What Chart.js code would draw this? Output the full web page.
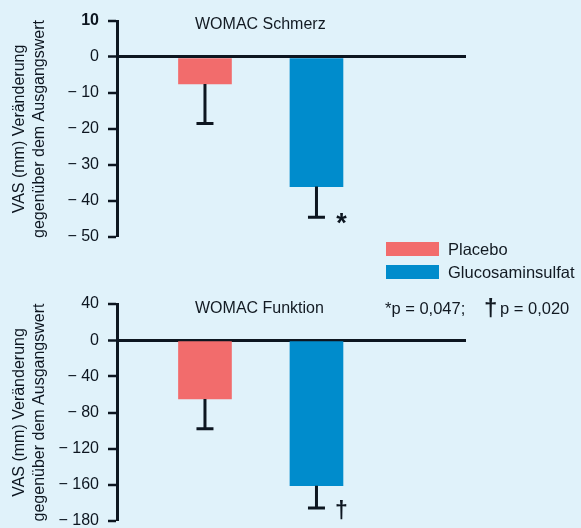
<!DOCTYPE html>
<html><head><meta charset="utf-8">
<script src="https://cdn.jsdelivr.net/npm/chart.js@4/dist/chart.umd.min.js"></script>
<style>
html,body{margin:0;padding:0;background:#e0f2fa;width:581px;height:528px;overflow:hidden;font-family:"Liberation Sans",Arial,sans-serif;color:#121a22}
.abs{position:absolute;white-space:nowrap;line-height:20px}
</style></head><body>
<div class="abs" style="left:0;top:0;width:581px;height:260px"><canvas id="c1" width="581" height="260"></canvas></div>
<div class="abs" style="left:0;top:260px;width:581px;height:290px"><canvas id="c2" width="581" height="290"></canvas></div>
<div class="abs" style="left:195px;top:14px;font-size:16px">WOMAC Schmerz</div>
<div class="abs" style="left:195px;top:298px;font-size:16px">WOMAC Funktion</div>
<div class="abs" id="sw0" style="left:386px;top:242px;width:53px;height:14px"></div>
<div class="abs" id="lg0" style="left:448px;top:239px;font-size:16.5px"></div>
<div class="abs" id="sw1" style="left:386px;top:265px;width:53px;height:14px"></div>
<div class="abs" id="lg1" style="left:448px;top:262px;font-size:16.5px"></div>
<div class="abs" style="left:385px;top:298px;font-size:16.5px">*p = 0,047;</div>
<div class="abs" style="left:484px;top:296px;font-size:24px;font-weight:bold;line-height:24px">†</div>
<div class="abs" style="left:500px;top:298px;font-size:16.5px">p = 0,020</div>
<script>
// ---- data ----
const categories = ['Placebo', 'Glucosaminsulfat'];
const seriesColors = ['#f26c6c', '#008ccc'];
const painMean = [-7.5, -36];
const painErrLow = [-18.5, -44.5];
const painMarks = ['', '*'];
const painTickValues = [10, 0, -10, -20, -30, -40, -50];
const painTickLabels = ['10', '0', '\u2212 10', '\u2212 20', '\u2212 30', '\u2212 40', '\u2212 50'];
const funcMean = [-65, -161];
const funcErrLow = [-98, -185.5];
const funcMarks = ['', '\u2020'];
const funcTickValues = [40, 0, -40, -80, -120, -160, -200];
const funcTickLabels = ['40', '0', '\u2212 40', '\u2212 80', '\u2212 120', '\u2212 160', '\u2212 180'];
const yTitle = ['VAS (mm) Ver\u00e4nderung', 'gegen\u00fcber dem Ausgangswert'];

const DARK = '#0d1620';
const FAM = '"Liberation Sans", Arial, sans-serif';

categories.forEach((c, i) => {
  document.getElementById('sw' + i).style.background = seriesColors[i];
  document.getElementById('lg' + i).textContent = c;
});

const errorPlugin = {
  id: 'errbars',
  afterDatasetsDraw(chart, args, opts) {
    const ctx = chart.ctx;
    const ys = chart.scales.y;
    ctx.save();
    chart.data.datasets.forEach((ds, di) => {
      const el = chart.getDatasetMeta(di).data[0];
      const yEnd = ys.getPixelForValue(ds.errLow);
      ctx.strokeStyle = DARK;
      ctx.lineWidth = 3;
      ctx.beginPath();
      ctx.moveTo(el.x, el.y);
      ctx.lineTo(el.x, yEnd);
      ctx.moveTo(el.x - 8.5, yEnd);
      ctx.lineTo(el.x + 8.5, yEnd);
      ctx.stroke();
      if (ds.mark) {
        ctx.fillStyle = DARK;
        ctx.textAlign = 'center';
        ctx.textBaseline = 'middle';
        ctx.font = 'bold ' + opts.markSize + 'px ' + FAM;
        ctx.fillText(ds.mark, el.x + 25, yEnd + opts.markDy);
      }
    });
    ctx.restore();
  }
};

function makeChart(id, mean, err, marks, tickValues, tickLabels, padTop, padBottom, markSize, markDy) {
  const datasets = categories.map((c, i) => ({
    label: c,
    data: [{ x: i + 1, y: mean[i] }],
    errLow: err[i],
    mark: marks[i],
    backgroundColor: seriesColors[i],
    borderWidth: 0,
    barThickness: 53,
    grouped: false
  }));
  return new Chart(document.getElementById(id), {
    type: 'bar',
    data: { datasets },
    options: {
      responsive: false,
      animation: false,
      layout: { padding: { top: padTop, bottom: padBottom, left: 0, right: 115 } },
      plugins: { legend: { display: false }, tooltip: { enabled: false }, errbars: { markSize, markDy } },
      scales: {
        x: { type: 'linear', display: false, offset: false, min: 0.211, max: 3.341 },
        y: {
          min: tickValues[tickValues.length - 1], max: tickValues[0],
          afterBuildTicks: s => { s.ticks = tickValues.map(v => ({ value: v })); },
          afterFit: s => { s.width = 117; },
          ticks: {
            color: DARK,
            padding: 9,
            autoSkip: false,
            callback: v => tickLabels[tickValues.indexOf(v)],
            font: c => ({ family: FAM, size: 16, weight: (c.tick && c.index === 0 && tickLabels[0] === '10') ? 'bold' : 'normal' })
          },
          grid: {
            drawOnChartArea: true,
            color: c => (c.tick && c.tick.value === 0) ? DARK : 'rgba(0,0,0,0)',
            lineWidth: c => (c.tick && c.tick.value === 0) ? 3 : 0,
            tickColor: DARK,
            tickWidth: 2.5,
            tickLength: 9
          },
          border: { display: true, color: DARK, width: 3 },
          title: {
            display: true, text: yTitle, color: DARK,
            font: { family: FAM, size: 16, lineHeight: 1.25 },
            padding: { top: 10, bottom: 0 }
          }
        }
      }
    },
    plugins: [errorPlugin]
  });
}

makeChart('c1', painMean, painErrLow, painMarks, painTickValues, painTickLabels, 21, 23, 27, 7);
makeChart('c2', funcMean, funcErrLow, funcMarks, funcTickValues, funcTickLabels, 44, 29, 23, 4);
</script>
</body></html>
